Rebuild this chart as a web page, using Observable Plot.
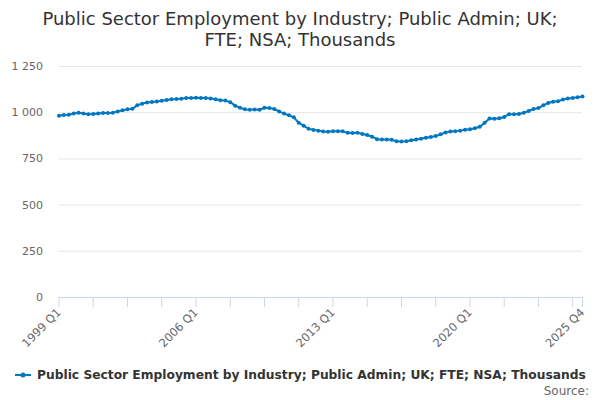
<!DOCTYPE html>
<html>
<head>
<meta charset="utf-8">
<script src="https://cdn.jsdelivr.net/npm/d3@7"></script>
<script src="https://cdn.jsdelivr.net/npm/@observablehq/plot@0.6"></script>
<style>
  html, body { margin: 0; padding: 0; background: #fff; }
  body { width: 600px; height: 400px; position: relative; font-family: "DejaVu Sans", sans-serif; overflow: hidden; }
  #title { position: absolute; top: 8px; left: 0; width: 600px; text-align: center; font-size: 18px; line-height: 21px; color: #333; }
  #chart { position: absolute; top: 50px; left: 0; }
  #legend { position: absolute; top: 368px; left: 15px; font-size: 12.25px; font-weight: bold; color: #333; display: flex; align-items: center; white-space: nowrap; }
  #legend svg { margin-right: 6px; }
  #source { position: absolute; top: 384px; right: 11px; font-size: 12px; color: #666; }
</style>
</head>
<body>
<div id="title">Public Sector Employment by Industry; Public Admin; UK;<br>FTE; NSA; Thousands</div>
<div id="chart"></div>
<div id="legend"><svg width="16" height="10"><line x1="0" y1="5" x2="16" y2="5" stroke="#0077c0" stroke-width="2"/><circle cx="8" cy="5" r="2.5" fill="#0077c0"/></svg><span id="legendText"></span></div>
<div id="source">Source:</div>
<script>
const seriesName = "Public Sector Employment by Industry; Public Admin; UK; FTE; NSA; Thousands";
const years = d3.range(1999, 2026);
const quarterNames = ["Q1", "Q2", "Q3", "Q4"];
const values = [
  984, 987, 989, 995, 1000, 996, 991, 993, 996, 998, 998, 1000,
  1007, 1013, 1018, 1021, 1040, 1049, 1055, 1058, 1060, 1065, 1069, 1073,
  1074, 1076, 1079, 1080, 1081, 1080, 1079, 1077, 1073, 1067, 1066, 1057,
  1038, 1027, 1018, 1016, 1017, 1016, 1027, 1025, 1020, 1007, 995, 986,
  975, 945, 930, 913, 907, 903, 898, 897, 899, 900, 899, 891,
  890, 891, 885, 879, 870, 857, 855, 855, 853, 846, 844, 846,
  851, 855, 859, 864, 869, 874, 883, 893, 898, 899, 903, 908,
  911, 916, 924, 945, 969, 967, 970, 977, 992, 991, 993, 1000,
  1009, 1020, 1025, 1040, 1053, 1059, 1062, 1071, 1077, 1080, 1084, 1088
];
const xTickLabels = ["1999 Q1", "2006 Q1", "2013 Q1", "2020 Q1", "2025 Q4"];
const yTicks = [0, 250, 500, 750, 1000, 1250];

const quarters = years.flatMap(y => quarterNames.map(q => `${y} ${q}`));
const data = quarters.map((q, i) => ({quarter: q, value: values[i]}));
const xTickMarks = quarters.filter((q, i) => i % 7 === 0).concat([quarters[quarters.length - 1]]);

document.getElementById("legendText").textContent = seriesName;

const fmt = n => n >= 1000 ? `${Math.floor(n / 1000)} ${String(n % 1000).padStart(3, "0")}` : String(n);
const color = "#0077c0";

const chart = Plot.plot({
  width: 600,
  height: 307,
  marginTop: 16,
  marginBottom: 60,
  marginLeft: 58.5,
  marginRight: 18,
  style: {fontFamily: "DejaVu Sans, sans-serif", fontSize: "11px", color: "#666", background: "#fff"},
  x: {type: "point", domain: quarters, padding: 0},
  y: {domain: [0, 1250]},
  marks: [
    Plot.gridY(yTicks, {stroke: "#e6e6e6", strokeOpacity: 1}),
    Plot.ruleY([0], {stroke: "#ccd6eb", strokeWidth: 1}),
    Plot.axisY(yTicks, {tickSize: 0, tickPadding: 16, tickFormat: fmt, fill: "#666", fontSize: 11, label: null}),
    Plot.axisX(xTickMarks, {tickSize: 10, stroke: "#ccd6eb", tickFormat: () => "", label: null}),
    Plot.axisX(xTickLabels, {tickSize: 0, tickPadding: 13, tickRotate: -45, fill: "#666", fontSize: 11.5, label: null}),
    Plot.line(data, {x: "quarter", y: "value", stroke: color, strokeWidth: 2}),
    Plot.dot(data, {x: "quarter", y: "value", fill: color, r: 2})
  ]
});
document.getElementById("chart").appendChild(chart);
</script>
</body>
</html>
